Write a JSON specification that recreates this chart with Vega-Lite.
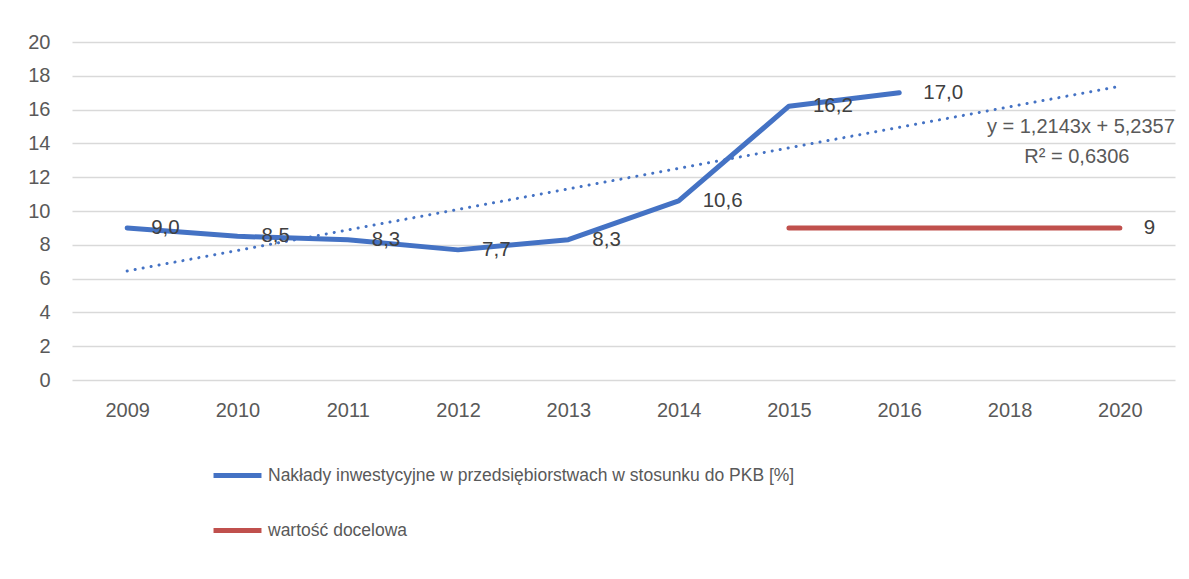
{
  "$schema": "https://vega.github.io/schema/vega-lite/v6.json",
  "width": 1103,
  "height": 338,
  "autosize": {"type": "none"},
  "padding": {"left": 72, "top": 42, "right": 14, "bottom": 199},
  "background": "white",
  "config": {
    "font": "Liberation Sans",
    "view": {"stroke": null},
    "axis": {"labelColor": "#595959", "labelFontSize": 20, "gridColor": "#d9d9d9", "gridWidth": 1.5, "domain": false, "ticks": false, "title": null}
  },
  "datasets": {
    "main": [
      {"year": "2009", "value": 9.0, "label": "9,0", "series": "Nakłady inwestycyjne w przedsiębiorstwach w stosunku do PKB [%]"},
      {"year": "2010", "value": 8.5, "label": "8,5", "series": "Nakłady inwestycyjne w przedsiębiorstwach w stosunku do PKB [%]"},
      {"year": "2011", "value": 8.3, "label": "8,3", "series": "Nakłady inwestycyjne w przedsiębiorstwach w stosunku do PKB [%]"},
      {"year": "2012", "value": 7.7, "label": "7,7", "series": "Nakłady inwestycyjne w przedsiębiorstwach w stosunku do PKB [%]"},
      {"year": "2013", "value": 8.3, "label": "8,3", "series": "Nakłady inwestycyjne w przedsiębiorstwach w stosunku do PKB [%]"},
      {"year": "2014", "value": 10.6, "label": "10,6", "series": "Nakłady inwestycyjne w przedsiębiorstwach w stosunku do PKB [%]"},
      {"year": "2015", "value": 16.2, "label": "16,2", "series": "Nakłady inwestycyjne w przedsiębiorstwach w stosunku do PKB [%]"},
      {"year": "2016", "value": 17.0, "label": "17,0", "series": "Nakłady inwestycyjne w przedsiębiorstwach w stosunku do PKB [%]"},
      {"year": "2015", "value": 9, "label": "", "series": "wartość docelowa"},
      {"year": "2016", "value": 9, "label": "", "series": "wartość docelowa"},
      {"year": "2018", "value": 9, "label": "", "series": "wartość docelowa"},
      {"year": "2020", "value": 9, "label": "9", "series": "wartość docelowa"}
    ],
    "trend": [
      {"year": "2009", "value": 6.45},
      {"year": "2020", "value": 17.38}
    ],
    "eq1": [{"year": "2020", "value": 14.97, "text": "y = 1,2143x + 5,2357"}],
    "eq2": [{"year": "2020", "value": 13.2, "text": "R² = 0,6306"}]
  },
  "encoding": {
    "x": {"field": "year", "type": "ordinal",
          "scale": {"type": "point", "padding": 0.5, "domain": ["2009","2010","2011","2012","2013","2014","2015","2016","2018","2020"]},
          "axis": {"labelAngle": 0, "labelPadding": 20, "grid": false}},
    "y": {"field": "value", "type": "quantitative", "scale": {"domain": [0, 20]},
          "axis": {"values": [0,2,4,6,8,10,12,14,16,18,20], "labelPadding": 22}}
  },
  "layer": [
    {
      "data": {"name": "trend"},
      "mark": {"type": "line", "color": "#4472C4", "strokeWidth": 3, "strokeDash": [0.1, 8], "strokeCap": "round"}
    },
    {
      "data": {"name": "main"},
      "mark": {"type": "line", "strokeWidth": 5, "strokeCap": "round", "strokeJoin": "round"},
      "encoding": {
        "color": {"field": "series", "type": "nominal",
          "scale": {"domain": ["Nakłady inwestycyjne w przedsiębiorstwach w stosunku do PKB [%]", "wartość docelowa"], "range": ["#4472C4", "#C0504D"]},
          "legend": {"orient": "none", "legendX": 139, "legendY": 407, "direction": "vertical", "title": null,
                     "symbolType": "stroke", "symbolSize": 2300, "symbolStrokeWidth": 5, "labelFontSize": 17.5, "labelColor": "#595959",
                     "labelLimit": 0, "rowPadding": 18, "labelOffset": 4}
        }
      }
    },
    {
      "data": {"name": "main"},
      "mark": {"type": "text", "align": "left", "dx": 24, "fontSize": 20.5, "color": "#404040", "baseline": "middle"},
      "encoding": {"text": {"field": "label"}}
    },
    {
      "data": {"name": "eq1"},
      "mark": {"type": "text", "fontSize": 20, "color": "#595959", "baseline": "middle", "align": "right", "dx": 55},
      "encoding": {"text": {"field": "text"}}
    },
    {
      "data": {"name": "eq2"},
      "mark": {"type": "text", "fontSize": 20, "color": "#595959", "baseline": "middle", "align": "center", "dx": -43},
      "encoding": {"text": {"field": "text"}}
    }
  ]
}
